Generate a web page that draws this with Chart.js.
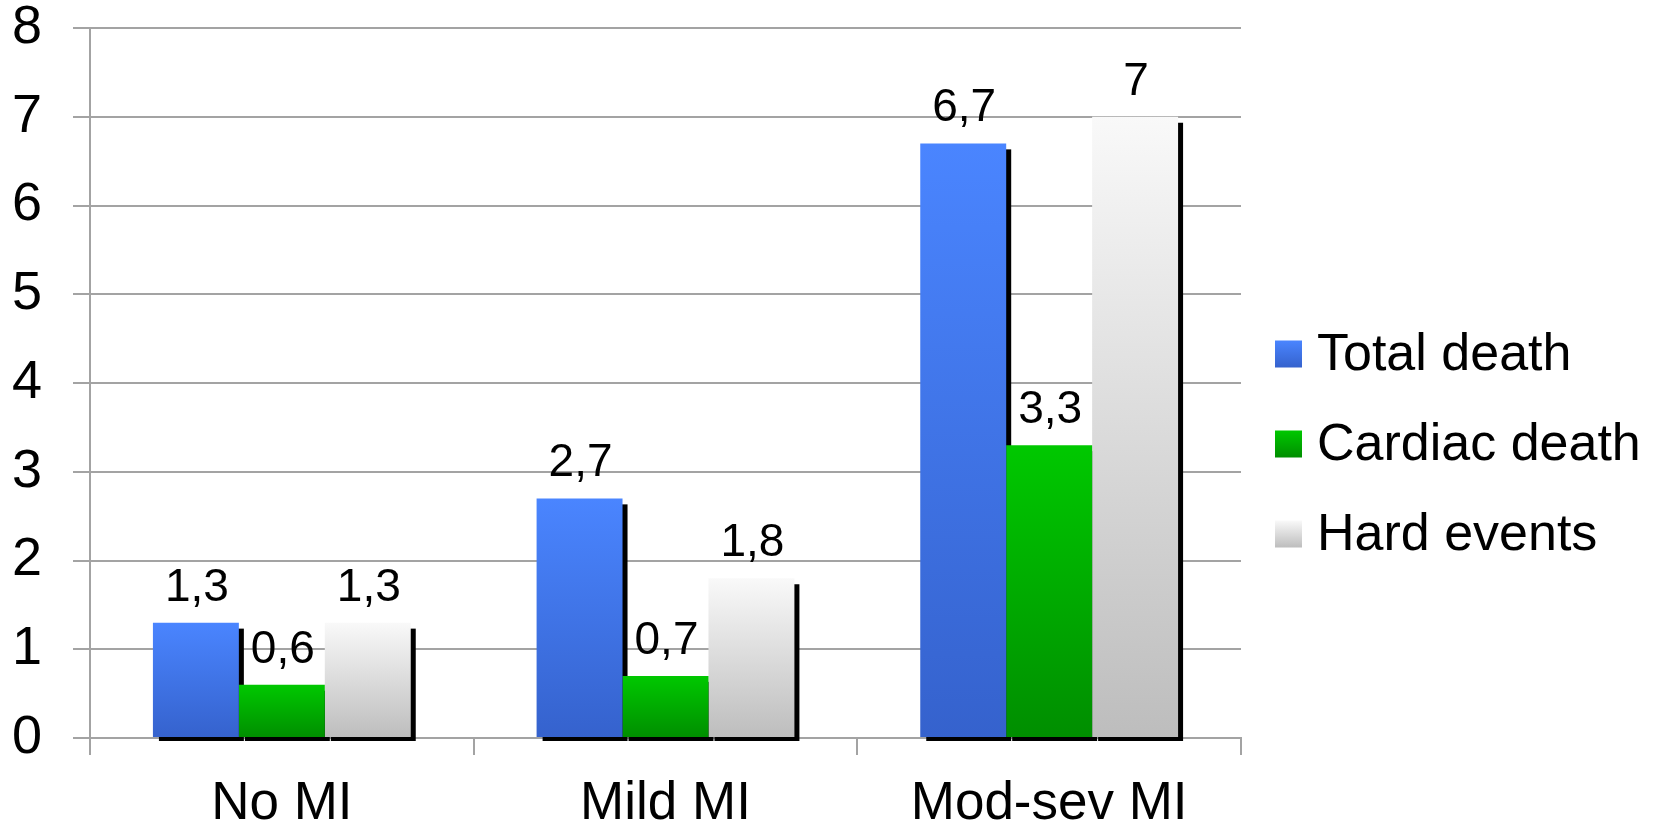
<!DOCTYPE html>
<html>
<head>
<meta charset="utf-8">
<script src="https://cdn.jsdelivr.net/npm/chart.js@4/dist/chart.umd.min.js"></script>
<style>
  html, body { margin: 0; padding: 0; background: #ffffff; }
  #wrap { width: 1655px; height: 825px; }
</style>
</head>
<body>
<div id="wrap"><canvas id="chart" width="1655" height="825"></canvas></div>
<script>
// Categories and series values
const categories = ['No MI', 'Mild MI', 'Mod-sev MI'];
const totalDeath = [1.3, 2.7, 6.7];
const cardiacDeath = [0.6, 0.7, 3.3];
const hardEvents = [1.3, 1.8, 7];
const yTicks = [0, 1, 2, 3, 4, 5, 6, 7, 8];

const FONT = '"Liberation Sans", Arial, sans-serif';
const GRID = '#a3a3a3';

// Vertical gradient spanning each bar from its top to the baseline
function barGradient(topColor, bottomColor) {
  return (ctx) => {
    const chart = ctx.chart;
    if (!chart.chartArea || ctx.type !== 'data' || !chart.scales.y) return topColor;
    const y = chart.scales.y;
    const top = y.getPixelForValue(ctx.raw);
    const base = y.getPixelForValue(0);
    const g = chart.ctx.createLinearGradient(0, top, 0, base);
    g.addColorStop(0, topColor);
    g.addColorStop(1, bottomColor);
    return g;
  };
}

const palette = [
  ['#4a85ff', '#3562cd'],
  ['#00c800', '#008e00'],
  ['#f9f9f9', '#bdbdbd']
];

// Black drop shadow behind each bar
const barShadow = {
  id: 'barShadow',
  beforeDatasetsDraw(chart) {
    const c = chart.ctx;
    c.save();
    c.fillStyle = '#000000';
    chart.data.datasets.forEach((ds, i) => {
      const meta = chart.getDatasetMeta(i);
      meta.data.forEach((el) => {
        const p = el.getProps(['x', 'y', 'base', 'width'], true);
        const left = p.x - p.width / 2;
        const right = p.x + p.width / 2;
        c.fillRect(left + 6, p.y + 6, right + 5 - (left + 6), p.base + 4 - (p.y + 6));
      });
    });
    c.restore();
  }
};

// Value labels above the bars, with a decimal comma
const valueLabels = {
  id: 'valueLabels',
  afterDatasetsDraw(chart) {
    const c = chart.ctx;
    c.save();
    c.fillStyle = '#000000';
    c.font = '46px ' + FONT;
    c.textAlign = 'center';
    c.textBaseline = 'alphabetic';
    chart.data.datasets.forEach((ds, i) => {
      const meta = chart.getDatasetMeta(i);
      meta.data.forEach((el, j) => {
        const p = el.getProps(['x', 'y'], true);
        const txt = String(ds.data[j]).replace('.', ',');
        c.fillText(txt, p.x + 1, p.y - 22);
      });
    });
    c.restore();
  }
};

// Legend drawn at the right of the plot
const sideLegend = {
  id: 'sideLegend',
  afterDraw(chart) {
    const c = chart.ctx;
    c.save();
    const x0 = 1275, box = 27, textX = 1317;
    const rows = [354, 444, 534];
    c.font = '52px ' + FONT;
    c.textBaseline = 'middle';
    c.textAlign = 'left';
    chart.data.datasets.forEach((ds, i) => {
      const cy = rows[i];
      const g = c.createLinearGradient(0, cy - box / 2, 0, cy + box / 2);
      g.addColorStop(0, palette[i][0]);
      g.addColorStop(1, palette[i][1]);
      c.fillStyle = g;
      c.fillRect(x0, cy - box / 2, box, box);
      c.fillStyle = '#000000';
      c.fillText(ds.label, textX, cy + 2);
    });
    c.restore();
  }
};

new Chart(document.getElementById('chart'), {
  type: 'bar',
  data: {
    labels: categories,
    datasets: [
      { label: 'Total death', data: totalDeath, backgroundColor: barGradient(...palette[0]) },
      { label: 'Cardiac death', data: cardiacDeath, backgroundColor: barGradient(...palette[1]) },
      { label: 'Hard events', data: hardEvents, backgroundColor: barGradient(...palette[2]) }
    ]
  },
  options: {
    responsive: false,
    animation: false,
    devicePixelRatio: 1,
    layout: { padding: { top: 28, left: 0, right: 414, bottom: 0 } },
    datasets: {
      bar: { categoryPercentage: 0.672, barPercentage: 1.0, borderWidth: 0 }
    },
    plugins: {
      legend: { display: false },
      tooltip: { enabled: false }
    },
    scales: {
      x: {
        offset: true,
        afterFit(axis) { axis.height = 87; },
        grid: {
          offset: true,
          drawOnChartArea: false,
          drawTicks: true,
          tickLength: 17,
          color: GRID,
          lineWidth: 2
        },
        border: { display: true, color: GRID, width: 2 },
        ticks: {
          color: '#000000',
          font: { family: FONT, size: 53, lineHeight: 1 },
          padding: 23,
          maxRotation: 0
        }
      },
      y: {
        min: 0,
        max: 8,
        afterFit(axis) {
          axis.width = 90;
          axis.paddingTop = 0;
          axis.paddingBottom = 0;
        },
        afterBuildTicks(axis) { axis.ticks = yTicks.map(v => ({ value: v })); },
        grid: {
          color: GRID,
          lineWidth: 2,
          tickLength: 17
        },
        border: { display: true, color: GRID, width: 2 },
        ticks: {
          color: '#000000',
          font: { family: FONT, size: 54, lineHeight: 1 },
          padding: 31
        }
      }
    }
  },
  plugins: [barShadow, valueLabels, sideLegend]
});
</script>
</body>
</html>
